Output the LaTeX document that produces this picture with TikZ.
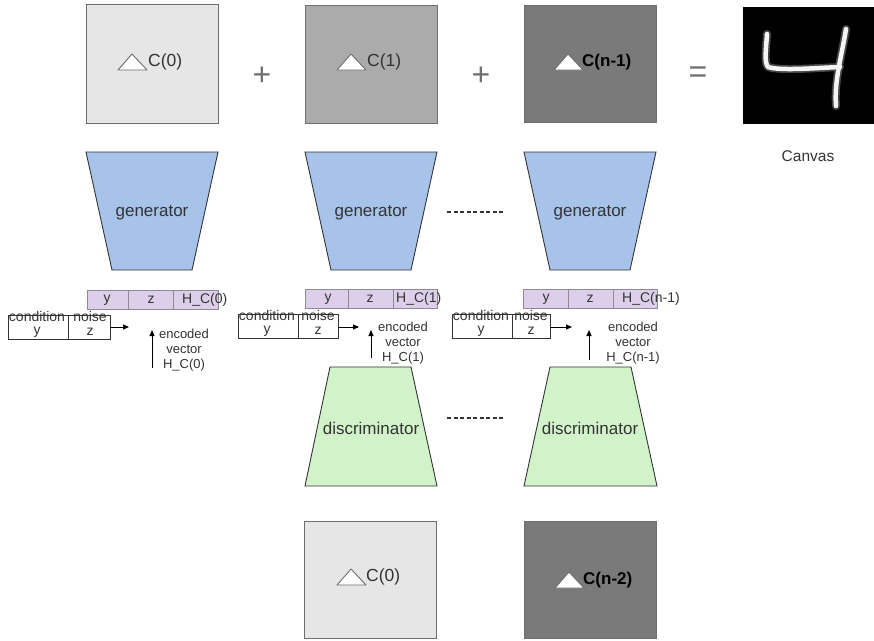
\documentclass[tikz,border=0pt]{standalone}
\usepackage{fontspec}
\setmainfont{Liberation Sans}
\usetikzlibrary{arrows.meta}

\definecolor{cardline}{HTML}{6E6E6E}
\definecolor{shadeA}{HTML}{E6E6E6}
\definecolor{shadeB}{HTML}{ABABAB}
\definecolor{shadeC}{HTML}{7A7A7A}
\definecolor{genfill}{HTML}{A8C3EA}
\definecolor{disfill}{HTML}{D2F2CA}
\definecolor{barfill}{HTML}{DDCFEA}
\definecolor{barline}{HTML}{8F8A96}
\definecolor{inkdark}{HTML}{333333}

\tikzset{
  card/.style={draw=cardline, line width=1pt},
  lbl/.style={font=\fontsize{17.5}{19}\selectfont, inner sep=0pt, anchor=west, text=inkdark},
  lblbold/.style={lbl, font=\bfseries\fontsize{17}{19}\selectfont, text=black},
  netshape/.style={draw=inkdark, line width=0.9pt},
  nettext/.style={font=\fontsize{17}{19}\selectfont, inner sep=0pt, text=inkdark},
  barbox/.style={draw=barline, fill=barfill, line width=0.9pt},
  bartext/.style={font=\fontsize{14}{16}\selectfont, inner sep=0pt, text=inkdark},
  inbox/.style={draw=inkdark, line width=0.8pt},
  intext/.style={font=\fontsize{14}{16}\selectfont, inner sep=0pt, text=inkdark},
  enctext/.style={font=\fontsize{13}{15}\selectfont, inner sep=0pt, text=inkdark, align=center},
  feed/.style={draw=black, line width=0.9pt, -{Triangle[length=6pt,width=5pt]}},
  gap/.style={draw=inkdark, line width=1.2pt, dash pattern=on 4pt off 2.5pt},
  op/.style={font=\fontsize{32}{34}\selectfont, inner sep=0pt, text=cardline},
  delta/.pic={\filldraw[fill=white, draw=cardline, line width=0.9pt, line join=round]
      (-30,8) -- (-1,8) -- (-16,-8) -- cycle;}
}

\begin{document}
\begin{tikzpicture}[x=1pt, y=-1pt]
\useasboundingbox (0,0) rectangle (874,640);

% ---- canvas pieces on top row ----
\filldraw[card, fill=shadeA] (86,4) rectangle (218,123);
\pic at (148,62) {delta};
\node[lbl] (c0) at (148,62) {C(0)};

\filldraw[card, fill=shadeB] (305,5) rectangle (437,123);
\pic at (367,62) {delta};
\node[lbl] (c1) at (367,62) {C(1)};

\filldraw[card, fill=shadeC] (524,5) rectangle (656,122);
\pic at (584,62) {delta};
\node[lblbold] (cn1) at (582,62) {C(n-1)};

\node[op] (plus1) at (262,76) {+};
\node[op] (plus2) at (481,76) {+};
\node[op] (equal) at (698,75) {=};

% ---- resulting canvas: handwritten four ----
\fill[black] (743,7) rectangle (874,124);
\begin{scope}[line cap=round, line join=round]
  \draw[gray!55!black, line width=8pt] (767,34) .. controls (766,50) and (764,62) .. (768,67)
        .. controls (780,71) and (815,68) .. (840,67);
  \draw[gray!55!black, line width=8pt] (846,29) .. controls (842,55) and (834,80) .. (836,106);
  \draw[white!92!gray, line width=4.5pt] (767,34) .. controls (766,50) and (764,62) .. (768,67)
        .. controls (780,71) and (815,68) .. (840,67);
  \draw[white!92!gray, line width=4.5pt] (846,29) .. controls (842,55) and (834,80) .. (836,106);
\end{scope}
\node[font=\fontsize{15.5}{17}\selectfont, text=inkdark, inner sep=0pt] (canvas) at (808,156) {Canvas};

% ---- generators ----
\filldraw[netshape, fill=genfill] (86,152) -- (218,152) -- (192,270) -- (112,270) -- cycle;
\node[nettext] (gen0) at (152,213) {generator};
\filldraw[netshape, fill=genfill] (305,152) -- (437,152) -- (411,270) -- (331,270) -- cycle;
\node[nettext] (gen1) at (371,213) {generator};
\filldraw[netshape, fill=genfill] (524,152) -- (656,152) -- (630,270) -- (550,270) -- cycle;
\node[nettext] (gen2) at (590,213) {generator};

\coordinate (g1a) at (447,212);
\coordinate (g1b) at (504,212);
\draw[gap] (g1a) -- (g1b);

% ---- encoded input bars ----
\filldraw[barbox] (87,290) rectangle (218,309);
\draw[barline, line width=0.9pt] (128,290) -- (128,309) (173,290) -- (173,309);
\node[bartext] (by0) at (107,300) {y};
\node[bartext] (bz0) at (151,300) {z};
\node[bartext, anchor=west] (bh0) at (182,300) {H\_C(0)};

\filldraw[barbox] (305,289) rectangle (437,308);
\draw[barline, line width=0.9pt] (348,289) -- (348,308) (393,289) -- (393,308);
\node[bartext] (by1) at (328,299) {y};
\node[bartext] (bz1) at (370,299) {z};
\node[bartext, anchor=west] (bh1) at (396,299) {H\_C(1)};

\filldraw[barbox] (523,289) rectangle (657,308);
\draw[barline, line width=0.9pt] (568,289) -- (568,308) (613,289) -- (613,308);
\node[bartext] (by2) at (546,299) {y};
\node[bartext] (bz2) at (590,299) {z};
\node[bartext, anchor=west] (bh2) at (622,299) {H\_C(n-1)};

% ---- condition / noise inputs ----
\draw[inbox] (8,315) rectangle (110,339) (68,315) -- (68,339);
\node[intext] (cond0) at (37,316) {condition};
\node[intext] (noise0) at (90,316) {noise};
\node[intext] (cy0) at (37,332) {y};
\node[intext] (cz0) at (90,332) {z};
\coordinate (cin0) at (110,327);
\coordinate (cout0) at (129,327);
\draw[feed] (cin0) -- (cout0);

\draw[inbox] (238,314) rectangle (338,338) (298,314) -- (298,338);
\node[intext] (cond1) at (267,315) {condition};
\node[intext] (noise1) at (318,315) {noise};
\node[intext] (cy1) at (267,331) {y};
\node[intext] (cz1) at (318,331) {z};
\coordinate (cin1) at (338,327);
\coordinate (cout1) at (359,327);
\draw[feed] (cin1) -- (cout1);

\draw[inbox] (452,314) rectangle (550,338) (512,314) -- (512,338);
\node[intext] (cond2) at (481,315) {condition};
\node[intext] (noise2) at (531,315) {noise};
\node[intext] (cy2) at (481,331) {y};
\node[intext] (cz2) at (531,331) {z};
\coordinate (cin2) at (550,327);
\coordinate (cout2) at (572,327);
\draw[feed] (cin2) -- (cout2);

% ---- encoded vectors ----
\coordinate (e0a) at (152,368);
\coordinate (e0b) at (152,330);
\draw[feed] (e0a) -- (e0b);
\node[enctext] (enc0) at (184,350) {encoded\\vector\\H\_C(0)};

\coordinate (e1a) at (371,358);
\coordinate (e1b) at (371,330);
\draw[feed] (e1a) -- (e1b);
\node[enctext] (enc1) at (403,343) {encoded\\vector\\H\_C(1)};

\coordinate (e2a) at (589,360);
\coordinate (e2b) at (589,330);
\draw[feed] (e2a) -- (e2b);
\node[enctext] (enc2) at (633,343) {encoded\\vector\\H\_C(n-1)};

% ---- discriminators ----
\filldraw[netshape, fill=disfill] (330,367) -- (411,367) -- (437,486) -- (305,486) -- cycle;
\node[nettext] (dis1) at (371,428) {discriminator};
\filldraw[netshape, fill=disfill] (550,367) -- (631,367) -- (657,486) -- (524,486) -- cycle;
\node[nettext] (dis2) at (590,428) {discriminator};

\coordinate (d1a) at (447,418);
\coordinate (d1b) at (503,418);
\draw[gap] (d1a) -- (d1b);

% ---- canvas pieces on bottom row ----
\filldraw[card, fill=shadeA] (304,521) rectangle (436,638);
\pic at (367,577) {delta};
\node[lbl] (b0) at (366,577) {C(0)};

\filldraw[card, fill=shadeC] (524,521) rectangle (656,638);
\pic at (585,580) {delta};
\node[lblbold] (bn2) at (583,580) {C(n-2)};

\end{tikzpicture}
\end{document}
